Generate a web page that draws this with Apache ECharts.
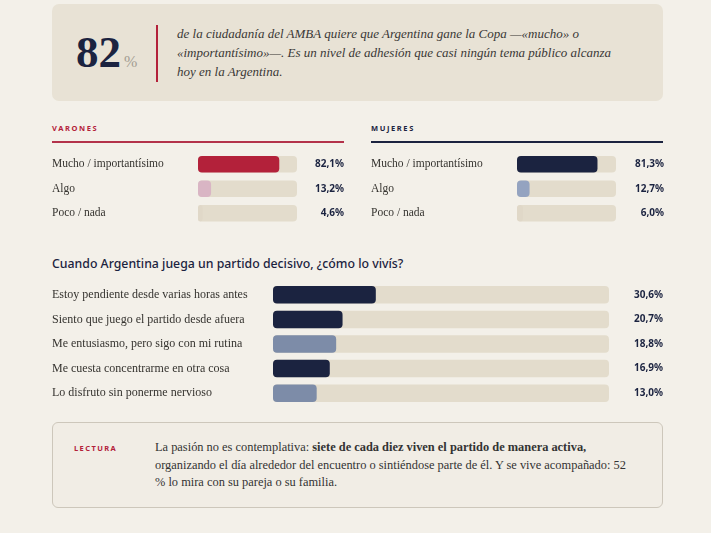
<!DOCTYPE html>
<html>
<head>
<meta charset="utf-8">
<script src="https://cdn.jsdelivr.net/npm/echarts@6/dist/echarts.min.js"></script>
<style>
  html, body { margin: 0; padding: 0; background: #f3f0e9; }
  #page { position: relative; width: 711px; height: 533px; overflow: hidden; }
  #chart { position: absolute; left: 0; top: 0; width: 711px; height: 533px; }
  .box-top {
    position: absolute; left: 52px; top: 4px; width: 611px; height: 97px;
    background: #e8e2d5; border-radius: 7px;
  }
  .big {
    position: absolute; left: 24px; top: 26px; font-family: 'Liberation Serif', serif;
    font-weight: bold; font-size: 45px; line-height: 45px; color: #1b2340;
  }
  .big span { font-size: 16px; font-weight: normal; color: #a39d92; margin-left: 3px; }
  .redline { position: absolute; left: 104px; top: 21px; width: 2px; height: 57px; background: #b3213a; }
  .intro {
    position: absolute; left: 125px; top: 20px; width: 480px; white-space: nowrap;
    font-family: 'Liberation Serif', serif; font-style: italic; font-size: 13px;
    line-height: 19px; color: #3a3835;
  }
  .hdr {
    position: absolute; top: 123px; font-family: 'Noto Sans', sans-serif; font-weight: 700;
    font-size: 7.5px; letter-spacing: 1.6px; line-height: 10px;
  }
  .rule { position: absolute; top: 141px; height: 2px; width: 292px; }
  .question {
    position: absolute; left: 52px; top: 255px; font-family: 'Noto Sans', sans-serif;
    font-weight: 500; font-size: 12.3px; line-height: 18px; color: #1b2340;
  }
  .box-lect {
    position: absolute; left: 52px; top: 422px; width: 609px; height: 84px;
    border: 1px solid #cdc7bb; border-radius: 6px; background: #f1ede5;
  }
  .lect-h {
    position: absolute; left: 21px; top: 20px; font-family: 'Noto Sans', sans-serif; font-weight: 700;
    font-size: 7.5px; letter-spacing: 1.4px; color: #b3213a;
  }
  .lect {
    position: absolute; left: 102px; top: 16px; width: 500px; white-space: nowrap;
    font-family: 'Liberation Serif', serif; font-size: 12.4px; line-height: 17.5px; color: #333;
  }
  .lect b { font-weight: bold; }
</style>
</head>
<body>
<div id="page">
  <div class="box-top">
    <div class="big">82<span>%</span></div>
    <div class="redline"></div>
    <div class="intro">de la ciudadanía del AMBA quiere que Argentina gane la Copa —«mucho» o<br>«importantísimo»—. Es un nivel de adhesión que casi ningún tema público alcanza<br>hoy en la Argentina.</div>
  </div>
  <div class="hdr" style="left:52px;color:#b3213a;">VARONES</div>
  <div class="rule" style="left:52px;background:#b3324a;"></div>
  <div class="hdr" style="left:371px;color:#1b2340;">MUJERES</div>
  <div class="rule" style="left:371px;background:#1b2340;"></div>
  <div class="question">Cuando Argentina juega un partido decisivo, ¿cómo lo vivís?</div>
  <div class="box-lect">
    <div class="lect-h">LECTURA</div>
    <div class="lect">La pasión no es contemplativa: <b>siete de cada diez viven el partido de manera activa,</b><br>organizando el día alrededor del encuentro o sintiéndose parte de él. Y se vive acompañado: 52<br>% lo mira con su pareja o su familia.</div>
  </div>
  <div id="chart"></div>
</div>
<script>
  // datos
  const sexCategories = ['Mucho / importantísimo', 'Algo', 'Poco / nada'];
  const varonesValues = [82.1, 13.2, 4.6];
  const mujeresValues = [81.3, 12.7, 6.0];
  const modoCategories = [
    'Estoy pendiente desde varias horas antes',
    'Siento que juego el partido desde afuera',
    'Me entusiasmo, pero sigo con mi rutina',
    'Me cuesta concentrarme en otra cosa',
    'Lo disfruto sin ponerme nervioso'
  ];
  const modoValues = [30.6, 20.7, 18.8, 16.9, 13.0];

  // estilos
  const varonesColors = ['#b3213a', '#d9b5c4', '#e0d8c8'];
  const mujeresColors = ['#1b2340', '#94a3c0', '#e0d8c8'];
  const modoColors = ['#1b2340', '#1b2340', '#7d8ca8', '#1b2340', '#7d8ca8'];
  const trackColor = '#e3dccc';

  const fmt = v => v.toFixed(1).replace('.', ',') + '%';

  const grids = [
    { left: 198, top: 152, width: 99, height: 73.5 },
    { left: 517, top: 152, width: 99, height: 73.5 },
    { left: 273, top: 282.5, width: 336, height: 123 }
  ];
  const blocks = [
    { cats: sexCategories, vals: varonesValues, colors: varonesColors, lm: 146, rm: 47, bw: 16.5, fs: 11.5 },
    { cats: sexCategories, vals: mujeresValues, colors: mujeresColors, lm: 146, rm: 48, bw: 16.5, fs: 11.5 },
    { cats: modoCategories, vals: modoValues, colors: modoColors, lm: 221, rm: 54, bw: 17.5, fs: 12 }
  ];

  const xAxis = [], yAxis = [], series = [];
  blocks.forEach((b, i) => {
    xAxis.push({ gridIndex: i, type: 'value', min: 0, max: 100, show: false });
    yAxis.push({
      gridIndex: i, type: 'category', data: b.cats, inverse: true,
      axisLine: { show: false }, axisTick: { show: false },
      axisLabel: {
        align: 'left', margin: b.lm, color: '#35332f',
        fontFamily: 'Liberation Serif', fontSize: b.fs
      }
    });
    yAxis.push({
      gridIndex: i, type: 'category', position: 'right', inverse: true,
      data: b.vals.map(fmt),
      axisLine: { show: false }, axisTick: { show: false },
      axisLabel: {
        align: 'right', margin: b.rm, color: '#1b2340',
        fontFamily: 'Noto Sans', fontWeight: 700, fontSize: 10
      }
    });
    series.push({
      type: 'bar', xAxisIndex: i, yAxisIndex: i * 2,
      barWidth: b.bw, silent: true,
      showBackground: true,
      backgroundStyle: { color: trackColor, borderRadius: 4 },
      data: b.vals.map((v, k) => ({ value: v, itemStyle: { color: b.colors[k], borderRadius: 4 } }))
    });
  });

  const chart = echarts.init(document.getElementById('chart'));
  chart.setOption({
    animation: false,
    grid: grids,
    xAxis: xAxis,
    yAxis: yAxis,
    series: series
  });
</script>
</body>
</html>
